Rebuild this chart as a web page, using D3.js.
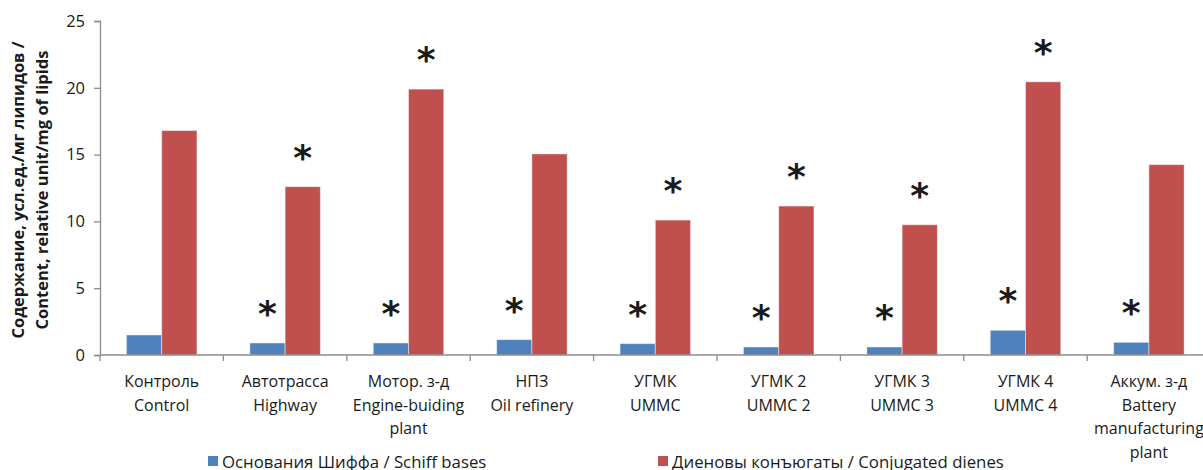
<!DOCTYPE html>
<html>
<head>
<meta charset="utf-8">
<script src="https://cdn.jsdelivr.net/npm/d3@7"></script>
<style>
  html, body { margin: 0; padding: 0; background: #fff; }
  svg { display: block; }
  text { font-family: "Open Sans", "Noto Sans", sans-serif; fill: #1a1a1a; }
</style>
</head>
<body>
<svg id="chart" width="1203" height="470"></svg>
<script>
// Sampling sites (two-line Russian / English labels)
const categories = [
  ["Контроль", "Control"],
  ["Автотрасса", "Highway"],
  ["Мотор. з-д", "Engine-buiding", "plant"],
  ["НПЗ", "Oil refinery"],
  ["УГМК", "UMMC"],
  ["УГМК 2", "UMMC 2"],
  ["УГМК 3", "UMMC 3"],
  ["УГМК 4", "UMMC 4"],
  ["Аккум. з-д", "Battery", "manufacturing", "plant"]
];

// Schiff bases and conjugated dienes, relative units per mg of lipids
const schiffBases = [1.5, 0.9, 0.9, 1.15, 0.85, 0.6, 0.6, 1.85, 0.95];
const conjugatedDienes = [16.8, 12.6, 19.9, 15.05, 10.1, 11.15, 9.75, 20.45, 14.25];

// Significant difference from control (marked with an asterisk)
const schiffSignificant = [false, true, true, true, true, true, true, true, true];
const dienesSignificant = [false, true, true, false, true, true, true, true, false];

const yTicks = [0, 5, 10, 15, 20, 25];
const seriesNames = ["Основания Шиффа / Schiff bases", "Диеновы конъюгаты / Conjugated dienes"];
const seriesColors = ["#4F81BD", "#C0504D"];

const svg = d3.select("#chart");
const plotLeft = 100, plotTop = 21, plotBottom = 355;
const bandStep = 123.4;

const keys = categories.map((c, i) => i);
const x = d3.scaleBand().domain(keys).range([plotLeft, plotLeft + bandStep * categories.length]).padding(0);
const y = d3.scaleLinear().domain([0, 25]).range([plotBottom, plotTop]);

// bar geometry: two bars per group, gap between groups = 150% of bar width
const barW = x.bandwidth() / 3.5;
const gapW = barW * 0.75;

const axisColor = "#8c8c8c";

// Y axis
const yAxis = svg.append("g")
  .attr("transform", `translate(${plotLeft},0)`)
  .call(d3.axisLeft(y).tickValues(yTicks).tickSize(6).tickPadding(9).tickFormat(d3.format("d")));
yAxis.select(".domain").attr("stroke", axisColor).attr("stroke-width", 1.3);
yAxis.selectAll(".tick line").attr("stroke", axisColor).attr("stroke-width", 1.3);
yAxis.selectAll(".tick text").style("font-size", "16.5px").style("font-family", "'Open Sans', sans-serif").attr("fill", "#222");

// Bars
const series = [schiffBases, conjugatedDienes];
const sig = [schiffSignificant, dienesSignificant];
series.forEach((vals, s) => {
  svg.append("g").selectAll("rect").data(vals).join("rect")
    .attr("x", (d, i) => x(i) + gapW + s * barW)
    .attr("y", d => y(d))
    .attr("width", barW)
    .attr("height", d => y(0) - y(d))
    .attr("fill", seriesColors[s])
    .attr("stroke", "rgba(255,255,255,0.45)")
    .attr("stroke-width", 1);

  // significance asterisks above the bars
  svg.append("g").selectAll("text").data(vals.map((v, i) => ({v, i})).filter(d => sig[s][d.i])).join("text")
    .attr("x", d => x(d.i) + gapW + s * barW + barW / 2)
    .attr("y", d => y(d.v) - 35 + 18)
    .attr("text-anchor", "middle")
    .style("font-size", "36px")
    .style("font-weight", "bold")
    .style("font-family", "'DejaVu Sans', sans-serif")
    .attr("fill", "#1a1a1a")
    .text("*");
});

// X axis line and category boundary ticks
svg.append("line")
  .attr("x1", plotLeft).attr("x2", 1203)
  .attr("y1", y(0)).attr("y2", y(0))
  .attr("stroke", axisColor).attr("stroke-width", 1.3);
svg.append("g").selectAll("line").data(keys.concat([categories.length])).join("line")
  .attr("x1", i => plotLeft + i * x.step()).attr("x2", i => plotLeft + i * x.step())
  .attr("y1", y(0)).attr("y2", y(0) + 6)
  .attr("stroke", axisColor).attr("stroke-width", 1.3);

// Category labels
const labels = svg.append("g").selectAll("text").data(categories).join("text")
  .attr("text-anchor", "middle")
  .style("font-size", "16px");
labels.each(function(lines, i) {
  d3.select(this).selectAll("tspan").data(lines).join("tspan")
    .attr("x", x(i) + x.bandwidth() / 2)
    .attr("y", (d, j) => 387 + j * 23.5)
    .text(d => d);
});

// Y axis title
const titleLines = ["Содержание, усл.ед./мг липидов /", "Content, relative unit/mg of lipids"];
svg.append("g").selectAll("text").data(titleLines).join("text")
  .attr("transform", (d, j) => `translate(${24 + j * 24},190) rotate(-90)`)
  .attr("text-anchor", "middle")
  .style("font-size", "16.5px")
  .style("font-weight", "bold")
  .text(d => d);

// Legend
const legendX = [208, 658];
const legend = svg.append("g").selectAll("g").data(seriesNames).join("g")
  .attr("transform", (d, i) => `translate(${legendX[i]},456)`);
legend.append("rect").attr("width", 10).attr("height", 10).attr("fill", (d, i) => seriesColors[i]);
legend.append("text").attr("x", 14).attr("y", 11.5).style("font-size", "16.8px").text(d => d);
</script>
</body>
</html>
